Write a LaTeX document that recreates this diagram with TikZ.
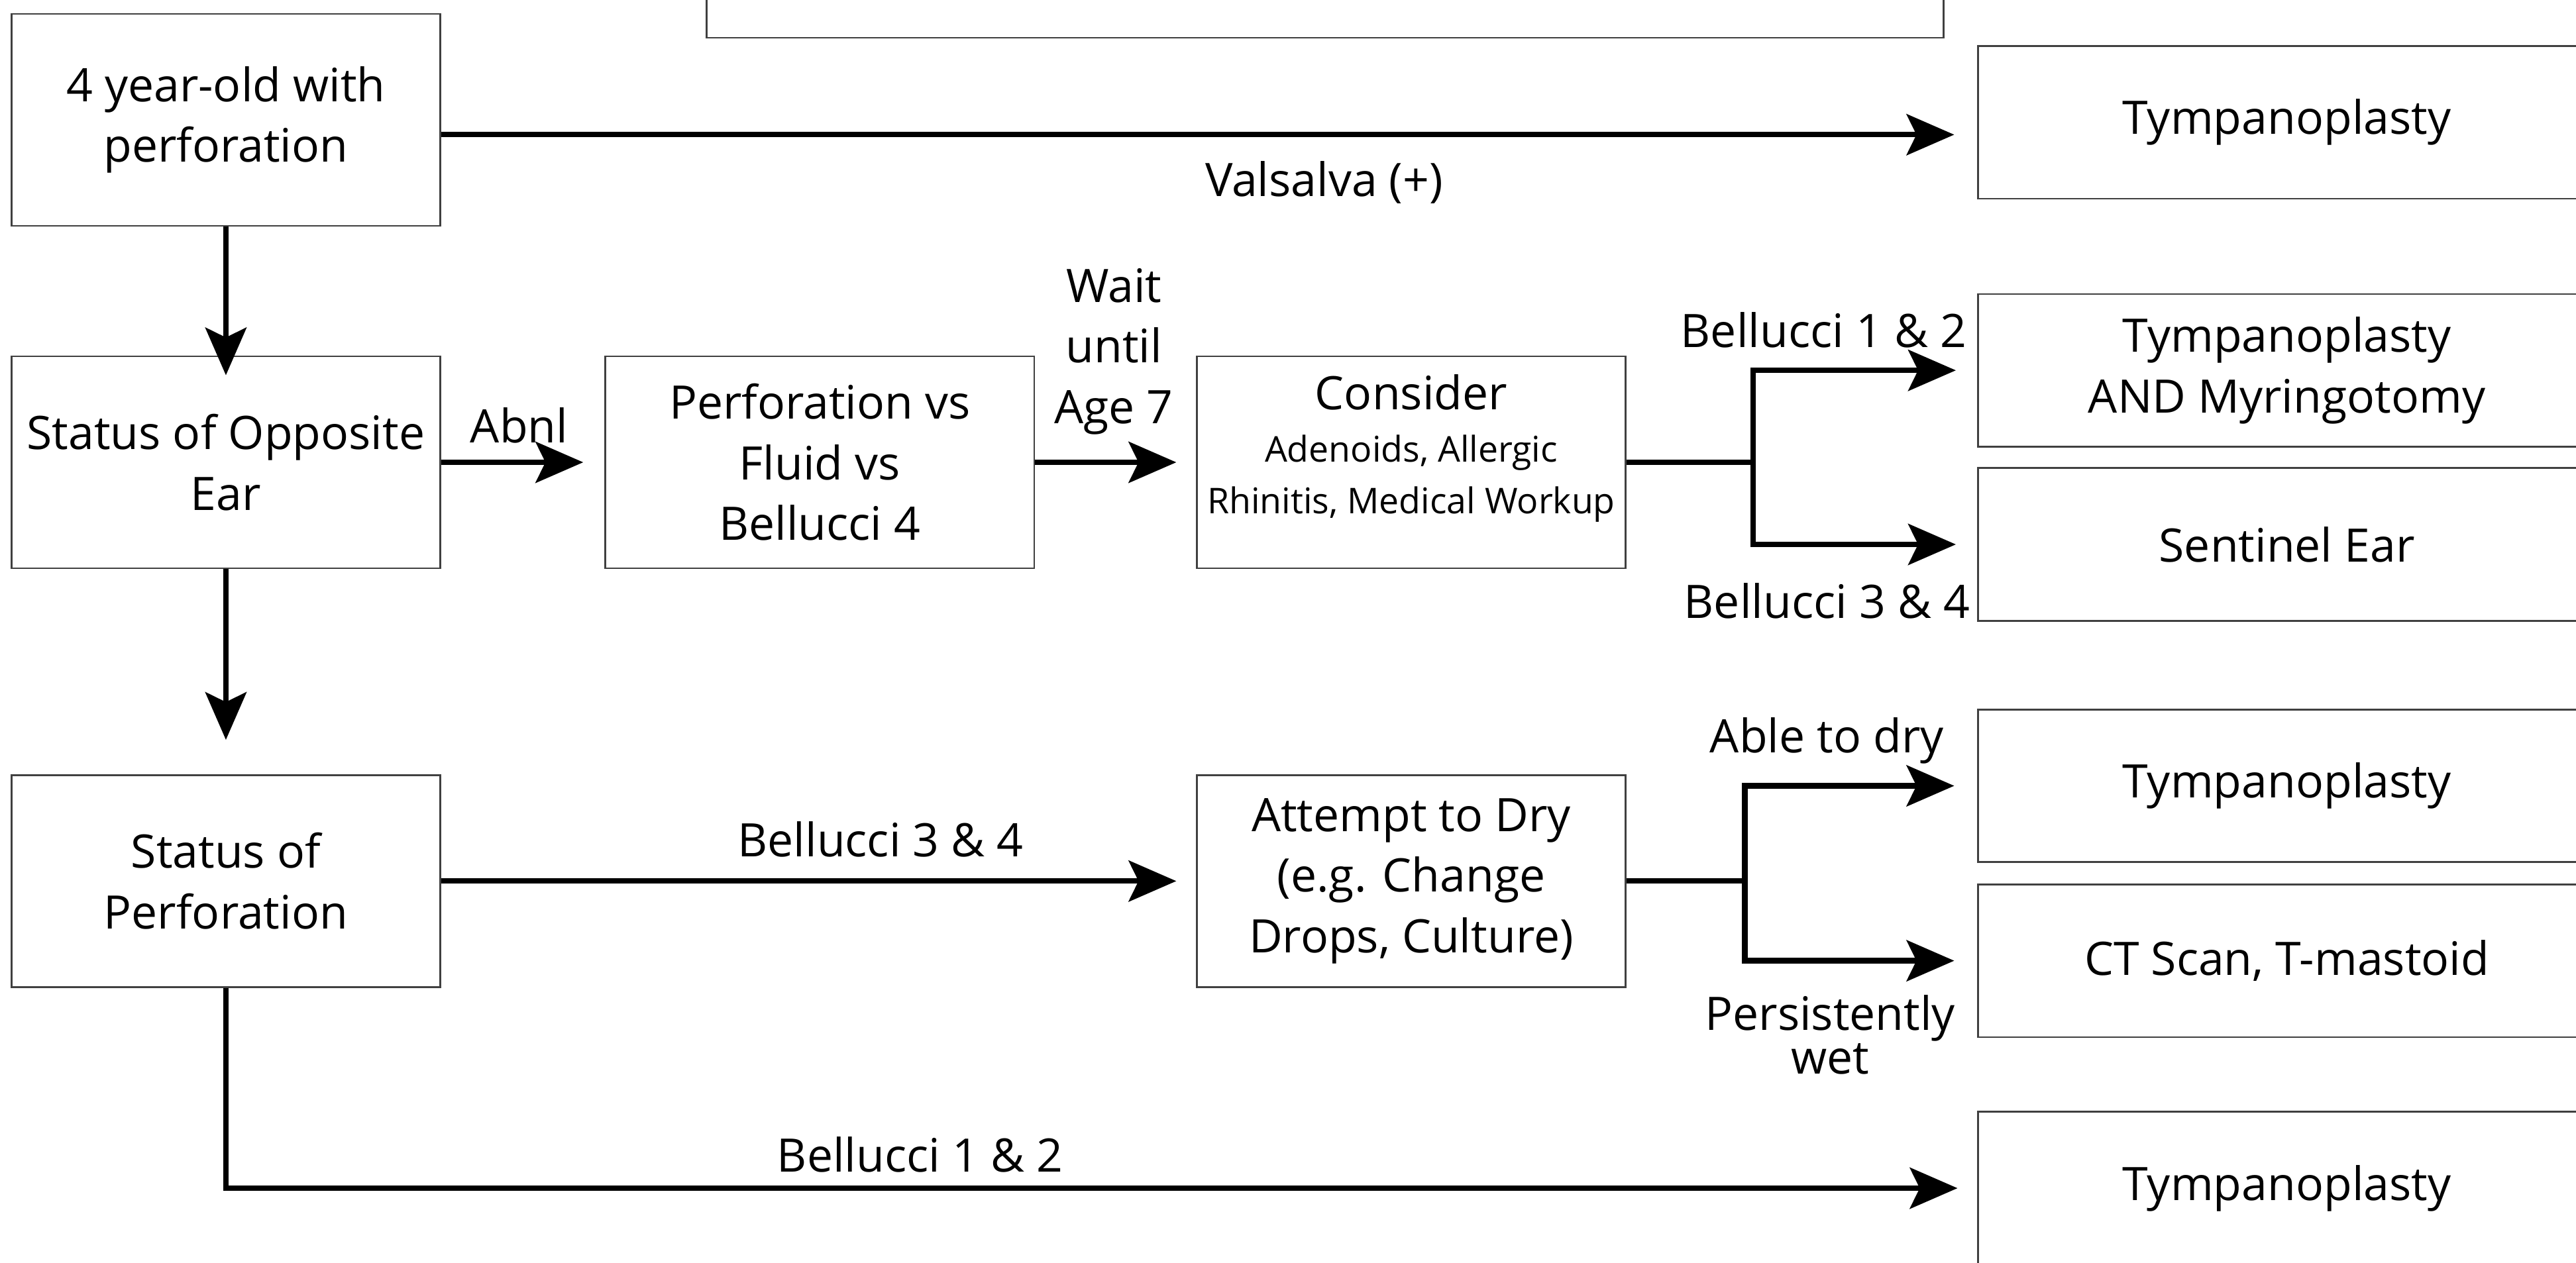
\documentclass[tikz,border=0pt]{standalone}
\usepackage{fontspec}
\setmainfont{Open Sans}
\usetikzlibrary{arrows.meta}

\tikzset{
  box/.style={draw=black!75, line width=0.6pt, fill=white, align=center, inner sep=0pt},
  lbox/.style={box, minimum width=5.22cm, minimum height=2.58cm},
  rbox/.style={box, minimum width=7.52cm, minimum height=1.86cm},
  wire/.style={line width=1.9pt},
  arr/.style={wire, -{Stealth[length=0.58cm, width=0.5cm, inset=0.12cm]}},
}

\begin{document}
\begin{tikzpicture}[x=0.02cm, y=-0.02cm, font=\fontsize{16}{21}\selectfont]
	\useasboundingbox (0,0) rectangle (1568,769);
	\clip (0,0) rectangle (1568,769);

	% title box, cut at the top
	\node[box, minimum width=15.06cm, minimum height=2cm] (title) at (806.5,-27) {};

	% left column
	\node[lbox] (start) at (137.5,73) {4 year-old with\\perforation};
	\node[lbox] (opp) at (137.5,281.5) {Status of Opposite\\Ear};
	\node[lbox] (perf) at (137.5,536.5) {Status of\\Perforation};

	% middle
	\node[lbox] (fluid) at (499,281.5) {Perforation vs\\Fluid vs\\Bellucci 4};
	\node[lbox] (consider) at (859,281.5) {};
	\node[align=center] (considertxt) at (859,273) {Consider\\[-3pt]{\fontsize{12.3}{15}\selectfont Adenoids, Allergic}\\[-3pt]{\fontsize{12.3}{15}\selectfont Rhinitis, Medical Workup}};
	\node[lbox] (dry) at (859,536.5) {Attempt to Dry\\(e.g. Change\\Drops, Culture)};

	% outcomes
	\node[rbox] (tp1) at (1392,74.5) {Tympanoplasty};
	\node[rbox] (tpm) at (1392,225.5) {Tympanoplasty\\AND Myringotomy};
	\node[rbox] (sentinel) at (1392,331.5) {Sentinel Ear};
	\node[rbox] (tp2) at (1392,478.5) {Tympanoplasty};
	\node[rbox] (ct) at (1392,585) {CT Scan, T-mastoid};
	\node[rbox] (tp3) at (1392,723.5) {Tympanoplasty};

	% connectors
	\coordinate (vals) at ([yshift=-0.18cm]start.east);
	\draw[arr, shorten >=0.28cm] (vals) -- (vals -| tp1.west);
	\draw[arr, shorten >=-0.24cm] (start) -- (opp);
	\draw[arr, shorten >=0.42cm] (opp) -- (perf);
	\draw[arr, shorten >=0.26cm] (opp) -- (fluid);
	\draw[arr, shorten >=0.24cm] (fluid) -- (consider);

	\coordinate (cjoin) at (1067,281.5);
	\draw[wire] (consider) -- (cjoin);
	\draw[arr, shorten >=0.26cm] (cjoin) |- (tpm);
	\draw[arr, shorten >=0.26cm] (cjoin) |- (sentinel);

	\draw[arr, shorten >=0.24cm] (perf) -- (dry);
	\coordinate (djoin) at (1062,536.5);
	\draw[wire] (dry) -- (djoin);
	\draw[arr, shorten >=0.28cm] (djoin) |- (tp2);
	\draw[arr, shorten >=0.28cm] (djoin) |- (ct);

	\draw[arr, shorten >=0.24cm] (perf) |- (tp3);

	% labels
	\node (valsalva) at (806,111) {Valsalva (+)};
	\node (abnl) at (316,259) {Abnl};
	\node[align=center] (wait) at (678,214) {Wait\\until\\Age 7};
	\node (bel12top) at (1110,201) {Bellucci 1 \& 2};
	\node (bel34top) at (1112,366) {Bellucci 3 \& 4};
	\node (bel34mid) at (536,511) {Bellucci 3 \& 4};
	\node (abledry) at (1112,451) {Able to dry};
	\node[align=center] (wet) at (1114,630) {Persistently\\[-6pt]wet};
	\node (bel12bot) at (560,703) {Bellucci 1 \& 2};
\end{tikzpicture}
\end{document}
